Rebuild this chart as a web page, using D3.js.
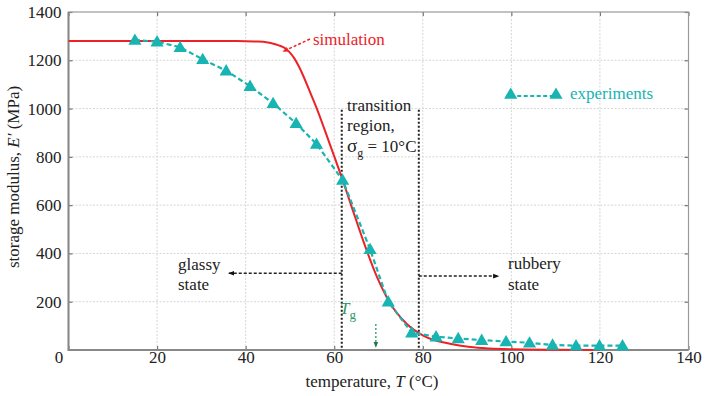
<!DOCTYPE html>
<html><head><meta charset="utf-8">
<script src="https://cdn.jsdelivr.net/npm/d3@7/dist/d3.min.js"></script>
<style>body{margin:0;background:#fff}svg{display:block}text{font-family:"Liberation Serif","Times New Roman",serif}</style>
</head><body><svg id="c" width="706" height="396"></svg>
<script>
const xTicks=[0,20,40,60,80,100,120,140];
const yTicks=[200,400,600,800,1000,1200,1400];
const simT=[0,10,20,30,38,42,45,46,47.5,49,50,51,52,53,54.5,56.2,59,61.9,64,66.6,69.6,72.6,76.4,80.1,86.1,90.7,95,100,110,120];
const simE=[1280,1280,1280,1280,1280,1278,1274,1270,1262,1249,1232,1208,1175,1136,1070,994,853,704,590,450,305,195,108,60,26,12,6,3,1,0];
const expT=[15,20,25.2,30.3,35.6,41,46.2,51.4,56,61.9,68.1,72.2,77.5,83,88,93.3,98.8,104.1,109.3,114.6,119.9,125.1];
const expE=[1284,1277,1254,1204,1157,1093,1022,939,853,704,417,200,72,55,48,41,35,30,21,18,18,18];
const transT=[61.7,79.1];

const RED="#ec2227",TEAL="#17b4b1",GREEN="#2a9a68";
const svg=d3.select("#c");
const L=68.5,R=688.5,T=12,B=350;
const x=d3.scaleLinear().domain([0,140]).range([L,R]);
const y=d3.scaleLinear().domain([0,1400]).range([B,T]);

const defs=svg.append("defs");
function mk(id,col){defs.append("marker").attr("id",id).attr("viewBox","0 0 10 10").attr("refX",9).attr("refY",5)
 .attr("markerWidth",6).attr("markerHeight",6).attr("orient","auto-start-reverse").attr("markerUnits","userSpaceOnUse")
 .append("path").attr("d","M0,1L10,5L0,9Z").attr("fill",col);}
mk("ab","#111");mk("ar",RED);mk("ag","#1d7a50");

// grid
const g=svg.append("g");
g.selectAll(".vg").data(xTicks.filter(d=>d>0&&d<140)).join("line").attr("x1",d=>x(d)).attr("x2",d=>x(d)).attr("y1",T).attr("y2",B)
 .attr("stroke","#d6d6d6").attr("stroke-width",1).attr("stroke-dasharray","2,1.5");
g.selectAll(".hg").data(yTicks.filter(d=>d<1400)).join("line").attr("x1",L).attr("x2",R).attr("y1",d=>y(d)).attr("y2",d=>y(d))
 .attr("stroke","#d6d6d6").attr("stroke-width",1).attr("stroke-dasharray","2,1.5");

// axes
const fs=17;
const ax=svg.append("g").attr("transform",`translate(0,${B})`).call(d3.axisBottom(x).tickValues(xTicks).tickSize(-4).tickPadding(10).tickFormat(d3.format("d")));
const ay=svg.append("g").attr("transform",`translate(${L},0)`).call(d3.axisLeft(y).tickValues(yTicks).tickSize(-4).tickPadding(7).tickFormat(d3.format("d")));
const axT=svg.append("g").attr("transform",`translate(0,${T})`).call(d3.axisTop(x).tickValues(xTicks).tickSize(-4).tickFormat(""));
const ayR=svg.append("g").attr("transform",`translate(${R},0)`).call(d3.axisRight(y).tickValues(yTicks).tickSize(-4).tickFormat(""));
[ax,ay,axT,ayR].forEach(a=>{a.select(".domain").remove();a.attr("font-family",null);a.selectAll(".tick line").attr("stroke","#777").attr("stroke-width",1.2);
 a.selectAll(".tick text").attr("font-size",fs).attr("fill","#222");});
ax.selectAll(".tick text").attr("dy","0.2em");
ax.selectAll(".tick").filter(d=>d===0).select("text").attr("dx",-10);
// frame
svg.append("rect").attr("x",L).attr("y",T).attr("width",R-L).attr("height",B-T).attr("fill","none").attr("stroke","#999").attr("stroke-width",1.2);
svg.append("path").attr("d",`M${L},${T}V${B}H${R}`).attr("fill","none").attr("stroke","#888").attr("stroke-width",2);

// transition lines
svg.selectAll(".tl").data(transT).join("line").attr("x1",d=>x(d)).attr("x2",d=>x(d)).attr("y1",y(995)).attr("y2",B)
 .attr("stroke","#222").attr("stroke-width",2).attr("stroke-dasharray","2,2");
// state arrows
svg.append("line").attr("x1",x(transT[0])).attr("x2",x(36.2)).attr("y1",y(318)).attr("y2",y(318))
 .attr("stroke","#222").attr("stroke-width",1.5).attr("stroke-dasharray","3,2").attr("marker-end","url(#ab)");
svg.append("line").attr("x1",x(transT[1])).attr("x2",x(97.1)).attr("y1",y(306)).attr("y2",y(306))
 .attr("stroke","#222").attr("stroke-width",1.5).attr("stroke-dasharray","3,2").attr("marker-end","url(#ab)");

// simulation
const simD=simT.map((t,i)=>[t,simE[i]]);
svg.append("path").datum(simD).attr("d",d3.line().x(d=>x(d[0])).y(d=>y(d[1])).curve(d3.curveMonotoneX))
 .attr("fill","none").attr("stroke",RED).attr("stroke-width",2);

// experiments
const expD=expT.map((t,i)=>[t,expE[i]]);
svg.append("path").datum(expD).attr("d",d3.line().x(d=>x(d[0])).y(d=>y(d[1])))
 .attr("fill","none").attr("stroke",TEAL).attr("stroke-width",2.2).attr("stroke-dasharray","5,3");
const tri=d3.symbol().type(d3.symbolTriangle).size(75);
svg.selectAll(".pt").data(expD).join("path").attr("d",tri).attr("transform",d=>`translate(${x(d[0])},${y(d[1])+1})`).attr("fill",TEAL);

// Tg arrow
svg.append("line").attr("x1",x(69.4)).attr("x2",x(69.4)).attr("y1",y(108)).attr("y2",y(12))
 .attr("stroke","#2a9a68").attr("stroke-width",1.3).attr("stroke-dasharray","2,2").attr("marker-end","url(#ag)");

// legend
svg.append("line").attr("x1",510.7).attr("x2",556).attr("y1",96).attr("y2",96).attr("stroke",TEAL).attr("stroke-width",2.2).attr("stroke-dasharray","4,2.5");
svg.selectAll(".lt").data([510.7,556]).join("path").attr("d",tri).attr("transform",d=>`translate(${d},95)`).attr("fill",TEAL);
svg.append("text").attr("x",570).attr("y",99).attr("font-size",fs).attr("fill",TEAL).text("experiments");

// simulation label + arrow
svg.append("text").attr("x",313).attr("y",45).attr("font-size",fs).attr("fill",RED).text("simulation");
svg.append("line").attr("x1",310).attr("y1",39).attr("x2",283).attr("y2",51.5).attr("stroke",RED).attr("stroke-width",1.5)
 .attr("stroke-dasharray","3,2").attr("marker-end","url(#ar)");

// annotations
function lines(xp,ys,arr,col){arr.forEach((s,i)=>svg.append("text").attr("x",xp).attr("y",ys[i]).attr("font-size",fs).attr("fill",col||"#222").text(s));}
lines(347,[111,131],["transition","region,"]);
const sg=svg.append("text").attr("x",347).attr("y",152).attr("font-size",fs).attr("fill","#222");
sg.append("tspan").attr("font-size",19).text("σ");
sg.append("tspan").attr("font-size",12).attr("dy",5).text("g");
sg.append("tspan").attr("dy",-5).text(" = 10°C");
lines(178,[270,290],["glassy","state"]);
lines(508,[269,290],["rubbery","state"]);
const tg=svg.append("text").attr("x",340).attr("y",314).attr("font-size",fs).attr("fill",GREEN);
tg.append("tspan").attr("font-style","italic").text("T");
tg.append("tspan").attr("font-size",13).attr("dy",5).text("g");

// axis titles
const xt=svg.append("text").attr("x",372).attr("y",387).attr("text-anchor","middle").attr("font-size",fs).attr("fill","#222");
xt.append("tspan").text("temperature, ");xt.append("tspan").attr("font-style","italic").text("T");xt.append("tspan").text(" (°C)");
const yt=svg.append("text").attr("transform","translate(19,177) rotate(-90)").attr("text-anchor","middle").attr("font-size",fs).attr("fill","#222");
yt.append("tspan").text("storage modulus, ");yt.append("tspan").attr("font-style","italic").text("E′");yt.append("tspan").text(" (MPa)");
</script></body></html>
